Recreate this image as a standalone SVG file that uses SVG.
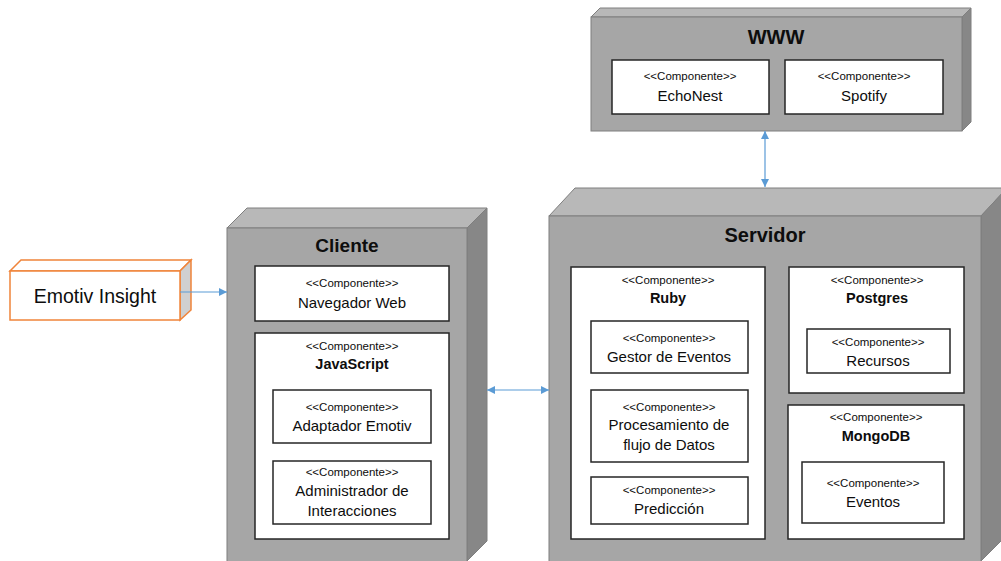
<svg xmlns="http://www.w3.org/2000/svg" width="1001" height="561" viewBox="0 0 1001 561">
<style>
.front{fill:#a6a6a6;stroke:#7f7f7f;stroke-width:1}
.top{fill:#b8b8b8;stroke:#7f7f7f;stroke-width:1}
.side{fill:#878787;stroke:#7f7f7f;stroke-width:1}
.comp{fill:#ffffff;stroke:#262626;stroke-width:1.5}
text{font-family:"Liberation Sans",Arial,sans-serif;fill:#0d0d0d;text-anchor:middle}
.st{font-size:11.5px}
.nm{font-size:15px}
.bd{font-size:14.5px;font-weight:bold}
.title{font-size:19px;font-weight:bold}
.conn{stroke:#5b9bd5;stroke-width:1.2;fill:none}
</style>
<defs>
<marker id="ah" viewBox="0 0 10 10" refX="10" refY="5" markerWidth="8" markerHeight="8" markerUnits="userSpaceOnUse" orient="auto-start-reverse">
<path d="M0,0 L10,5 L0,10 z" fill="#5b9bd5"/>
</marker>
</defs>
<rect width="1001" height="561" fill="#ffffff"/>

<g id="emotiv">
<polygon points="10,271 21,260 191,260 180,271" fill="#ffffff" stroke="#f0843a" stroke-width="1.5"/>
<polygon points="180,271 191,260 191,310 180,320" fill="#d0d0d0" stroke="#f0843a" stroke-width="1.5"/>
<rect x="10" y="271" width="170" height="49" fill="#ffffff" stroke="#f0843a" stroke-width="1.5"/>
<text x="95" y="303" style="font-size:19.5px">Emotiv Insight</text>
</g>

<g id="cliente">
<polygon class="top" points="227,228 247,208 487,208 467,228"/>
<polygon class="side" points="467,228 487,208 487,541 467,561"/>
<rect class="front" x="227" y="228" width="240" height="340"/>
<text class="title" x="347" y="252">Cliente</text>
<g id="navegador">
<rect class="comp" x="255" y="266" width="194" height="55"/>
<text class="st" x="352" y="287">&lt;&lt;Componente&gt;&gt;</text>
<text class="nm" x="352" y="308">Navegador Web</text>
</g>
<g id="javascript">
<rect class="comp" x="255" y="333" width="194" height="206"/>
<text class="st" x="352" y="350">&lt;&lt;Componente&gt;&gt;</text>
<text class="bd" x="352" y="369">JavaScript</text>
</g>
<g id="adaptador">
<rect class="comp" x="273" y="390" width="158" height="53"/>
<text class="st" x="352" y="411">&lt;&lt;Componente&gt;&gt;</text>
<text class="nm" x="352" y="431">Adaptador Emotiv</text>
</g>
<g id="administrador">
<rect class="comp" x="273" y="461" width="158" height="63"/>
<text class="st" x="352" y="476">&lt;&lt;Componente&gt;&gt;</text>
<text class="nm" x="352" y="496">Administrador de</text>
<text class="nm" x="352" y="516">Interacciones</text>
</g>
</g>

<g id="servidor">
<polygon class="top" points="549,216 575,188 1007,188 981,216"/>
<polygon class="side" points="981,216 1007,188 1007,535 981,561"/>
<rect class="front" x="549" y="216" width="432" height="350"/>
<text class="title" x="765" y="242" style="font-size:20px">Servidor</text>
<g id="ruby">
<rect class="comp" x="571" y="267" width="194" height="272"/>
<text class="st" x="668" y="284">&lt;&lt;Componente&gt;&gt;</text>
<text class="bd" x="668" y="303">Ruby</text>
</g>
<g id="gestor">
<rect class="comp" x="591" y="321" width="157" height="52"/>
<text class="st" x="669" y="342">&lt;&lt;Componente&gt;&gt;</text>
<text class="nm" x="669" y="362">Gestor de Eventos</text>
</g>
<g id="procesamiento">
<rect class="comp" x="591" y="390" width="157" height="72"/>
<text class="st" x="669" y="411">&lt;&lt;Componente&gt;&gt;</text>
<text class="nm" x="669" y="430">Procesamiento de</text>
<text class="nm" x="669" y="450">flujo de Datos</text>
</g>
<g id="prediccion">
<rect class="comp" x="591" y="477" width="157" height="47"/>
<text class="st" x="669" y="494">&lt;&lt;Componente&gt;&gt;</text>
<text class="nm" x="669" y="514">Predicción</text>
</g>
<g id="postgres">
<rect class="comp" x="789" y="267" width="175" height="126"/>
<text class="st" x="877" y="284">&lt;&lt;Componente&gt;&gt;</text>
<text class="bd" x="877" y="303">Postgres</text>
</g>
<g id="recursos">
<rect class="comp" x="807" y="329" width="143" height="44"/>
<text class="st" x="878" y="346">&lt;&lt;Componente&gt;&gt;</text>
<text class="nm" x="878" y="366">Recursos</text>
</g>
<g id="mongodb">
<rect class="comp" x="788" y="405" width="176" height="134"/>
<text class="st" x="876" y="421">&lt;&lt;Componente&gt;&gt;</text>
<text class="bd" x="876" y="441">MongoDB</text>
</g>
<g id="eventos">
<rect class="comp" x="802" y="462" width="142" height="61"/>
<text class="st" x="873" y="487">&lt;&lt;Componente&gt;&gt;</text>
<text class="nm" x="873" y="507">Eventos</text>
</g>
</g>

<g id="www">
<polygon class="top" points="591,17 600,8 971,8 962,17"/>
<polygon class="side" points="962,17 971,8 971,122 962,131"/>
<rect class="front" x="591" y="17" width="371" height="114"/>
<text class="title" x="776" y="44" style="font-size:20px">WWW</text>
<g id="echonest">
<rect class="comp" x="612" y="60" width="157" height="54"/>
<text class="st" x="690" y="80">&lt;&lt;Componente&gt;&gt;</text>
<text class="nm" x="690" y="101">EchoNest</text>
</g>
<g id="spotify">
<rect class="comp" x="785" y="60" width="158" height="54"/>
<text class="st" x="864" y="80">&lt;&lt;Componente&gt;&gt;</text>
<text class="nm" x="864" y="101">Spotify</text>
</g>
</g>

<g id="connectors">
<line class="conn" x1="180" y1="292" x2="227" y2="292" marker-end="url(#ah)"/>
<line class="conn" x1="487" y1="390" x2="549" y2="390" marker-start="url(#ah)" marker-end="url(#ah)"/>
<line class="conn" x1="765" y1="131" x2="765" y2="187" marker-start="url(#ah)" marker-end="url(#ah)"/>
</g>
</svg>
